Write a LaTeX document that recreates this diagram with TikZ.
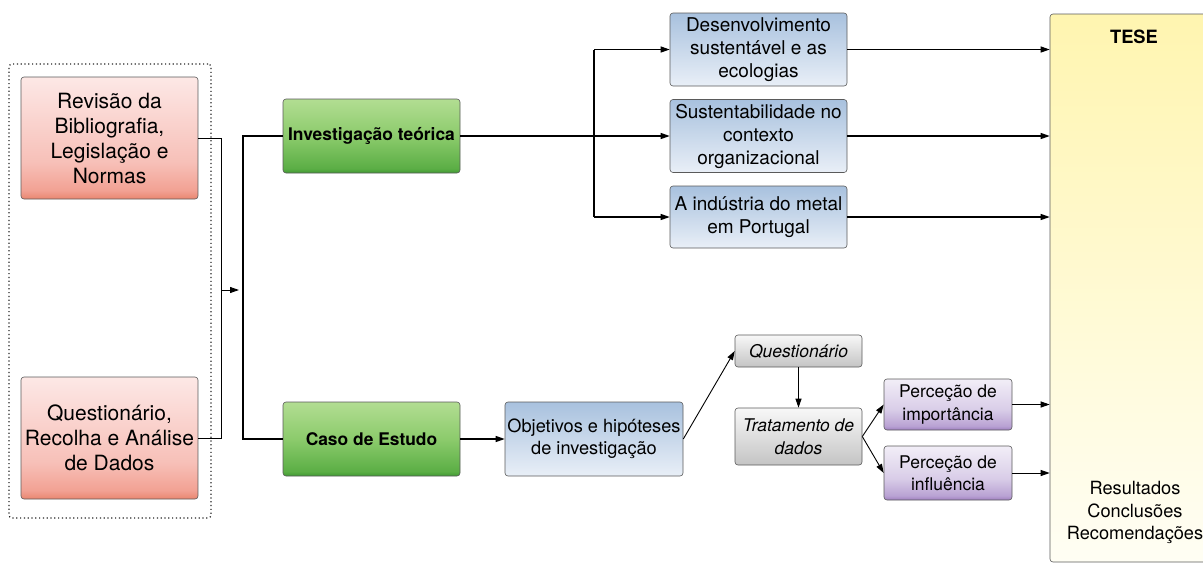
\documentclass[tikz,border=0pt]{standalone}
\usepackage{fontspec}
\setmainfont{TeX Gyre Heros}
\usetikzlibrary{arrows.meta,calc}

\definecolor{boxline}{HTML}{5A5A5A}
\definecolor{redA}{HTML}{FDE8E6}
\definecolor{redB}{HTML}{F7C0B8}
\definecolor{redC}{HTML}{F2A193}
\definecolor{redD}{HTML}{E98670}
\definecolor{grA}{HTML}{B2DD92}
\definecolor{grB}{HTML}{8CCB6C}
\definecolor{grC}{HTML}{5BAE45}
\definecolor{grD}{HTML}{3F9933}
\definecolor{blA}{HTML}{A8C1DE}
\definecolor{blB}{HTML}{E9EFF7}
\definecolor{gyA}{HTML}{F8F8F8}
\definecolor{gyB}{HTML}{C4C4C4}
\definecolor{puA}{HTML}{F2EEF7}
\definecolor{puB}{HTML}{D9CDE8}
\definecolor{puC}{HTML}{B9A2D3}
\definecolor{puD}{HTML}{9E7FBF}
\definecolor{yeA}{HTML}{FFF5B0}
\definecolor{yeB}{HTML}{FFFEF4}

\pgfdeclareverticalshading{redsh}{100bp}{color(0bp)=(redD); color(25bp)=(redD); color(28.5bp)=(redC); color(40bp)=(redB); color(75bp)=(redA); color(100bp)=(redA)}
\pgfdeclareverticalshading{greensh}{100bp}{color(0bp)=(grD); color(25bp)=(grD); color(28bp)=(grC); color(50bp)=(grB); color(75bp)=(grA); color(100bp)=(grA)}
\pgfdeclareverticalshading{bluesh}{100bp}{color(0bp)=(blB); color(25bp)=(blB); color(75bp)=(blA); color(100bp)=(blA)}
\pgfdeclareverticalshading{greysh}{100bp}{color(0bp)=(gyB); color(25bp)=(gyB); color(75bp)=(gyA); color(100bp)=(gyA)}
\pgfdeclareverticalshading{purplesh}{100bp}{color(0bp)=(puD); color(25bp)=(puD); color(29bp)=(puC); color(45bp)=(puB); color(75bp)=(puA); color(100bp)=(puA)}
\pgfdeclareverticalshading{yellowsh}{100bp}{color(0bp)=(yeB); color(25bp)=(yeB); color(75bp)=(yeA); color(100bp)=(yeA)}

\begin{document}
\begin{tikzpicture}[x=1pt,y=-1pt,
  box/.style={rectangle, rounded corners=3pt, draw=boxline, line width=0.6pt, shade, inner sep=1pt, align=center, text=black, font=\fontsize{17.5}{22.5}\selectfont},
  redbox/.style={box, shading=redsh, minimum width=177pt, minimum height=122pt, font=\fontsize{21}{25}\selectfont},
  greenbox/.style={box, shading=greensh, minimum width=177pt, minimum height=74pt, font=\bfseries\fontsize{17.4}{21}\selectfont},
  bluebox/.style={box, shading=bluesh, minimum width=177pt, font=\fontsize{19}{23}\selectfont},
  greybox/.style={box, shading=greysh, minimum width=127pt, font=\itshape\fontsize{17.5}{22.5}\selectfont},
  purplebox/.style={box, shading=purplesh, minimum width=128pt},
  tesebox/.style={box, shading=yellowsh},
  grpbox/.style={draw=black!85, line width=1.2pt, dash pattern=on 1.2pt off 2.6pt, rounded corners=3pt, minimum width=202pt, minimum height=454pt, inner sep=0pt},
  conn/.style={draw=black, line width=1.2pt},
  arr/.style={conn, -{Triangle[length=9pt,width=6pt]}},
  thinconn/.style={draw=black, line width=0.9pt},
  thinarr/.style={thinconn, -{Triangle[length=9pt,width=6pt]}},
  lbl/.style={inner sep=0pt, align=center, text=black}
]
\useasboundingbox (0,0) rectangle (1203,563);

% group frame
\node[grpbox] (grp) at (110,291) {};

% nodes
\node[redbox] (rev) at (109.5,138) {Revisão da\\Bibliografia,\\Legislação e\\Normas};
\node[redbox] (que) at (109.5,438) {Questionário,\\Recolha e Análise\\de Dados};
\node[greenbox] (inv) at (371.5,136) {Investigação teórica};
\node[greenbox] (caso) at (371.5,439) {Caso de Estudo};
\node[bluebox, minimum width=178pt, minimum height=74pt, font=\fontsize{18.2}{22.5}\selectfont] (obj) at (594,439) {Objetivos e hipóteses\\de investigação};
\node[bluebox, minimum height=73pt] (des) at (758.5,49.5) {Desenvolvimento\\sustentável e as\\ecologias};
\node[bluebox, minimum height=73pt] (sus) at (758.5,136) {Sustentabilidade no\\contexto\\organizacional};
\node[bluebox, minimum height=62pt] (ind) at (758.5,217) {A indústria do metal\\em Portugal};
\node[greybox, minimum height=32pt] (qst) at (798.5,351) {Questionário};
\node[greybox, minimum height=57pt] (trat) at (798.5,436.5) {Tratamento de\\dados};
\node[purplebox, minimum height=51pt] (imp) at (948,404.5) {Perceção de\\importância};
\node[purplebox, minimum height=54pt] (inf) at (948,473) {Perceção de\\influência};
\node[tesebox, minimum width=170pt, minimum height=548pt] (tese) at (1135,288) {};
\node[lbl, font=\bfseries\fontsize{18.3}{22}\selectfont] (tt) at (1134,37) {TESE};
\node[lbl, font=\fontsize{18.2}{22.5}\selectfont] (res) at (1135,512.5) {Resultados\\Conclusões\\Recomendações};

% helper coordinates
\coordinate (brk) at (221,290);
\coordinate (brkend) at (239,290);
\coordinate (spl) at (243,290);
\coordinate (tv) at (594,136);

% connectors
\draw[thinconn] (rev.east) -- (rev.east -| brk) -- (que.east -| brk) -- (que.east);
\draw[thinarr] (brk) -- (brkend);
\draw[conn] (inv.west) -| (spl) |- (caso.west);
\draw[arr] (inv.east) -- (sus.west);
\draw[conn] (des.west -| tv) -- (ind.west -| tv);
\draw[arr] (des.west -| tv) -- (des.west);
\draw[arr] (ind.west -| tv) -- (ind.west);
\draw[arr] (des.east) -- (des.east -| tese.west);
\draw[arr] (sus.east) -- (sus.east -| tese.west);
\draw[arr] (ind.east) -- (ind.east -| tese.west);
\draw[arr] (caso.east) -- (obj.west);
\draw[thinarr] (obj.east) -- (qst.west);
\draw[thinarr] (qst.south) -- (trat.north);
\draw[thinarr] (trat.east) -- (imp.west);
\draw[thinarr] (trat.east) -- (inf.west);
\draw[thinarr] (imp.east) -- (imp.east -| tese.west);
\draw[thinarr] (inf.east) -- (inf.east -| tese.west);
\end{tikzpicture}
\end{document}
